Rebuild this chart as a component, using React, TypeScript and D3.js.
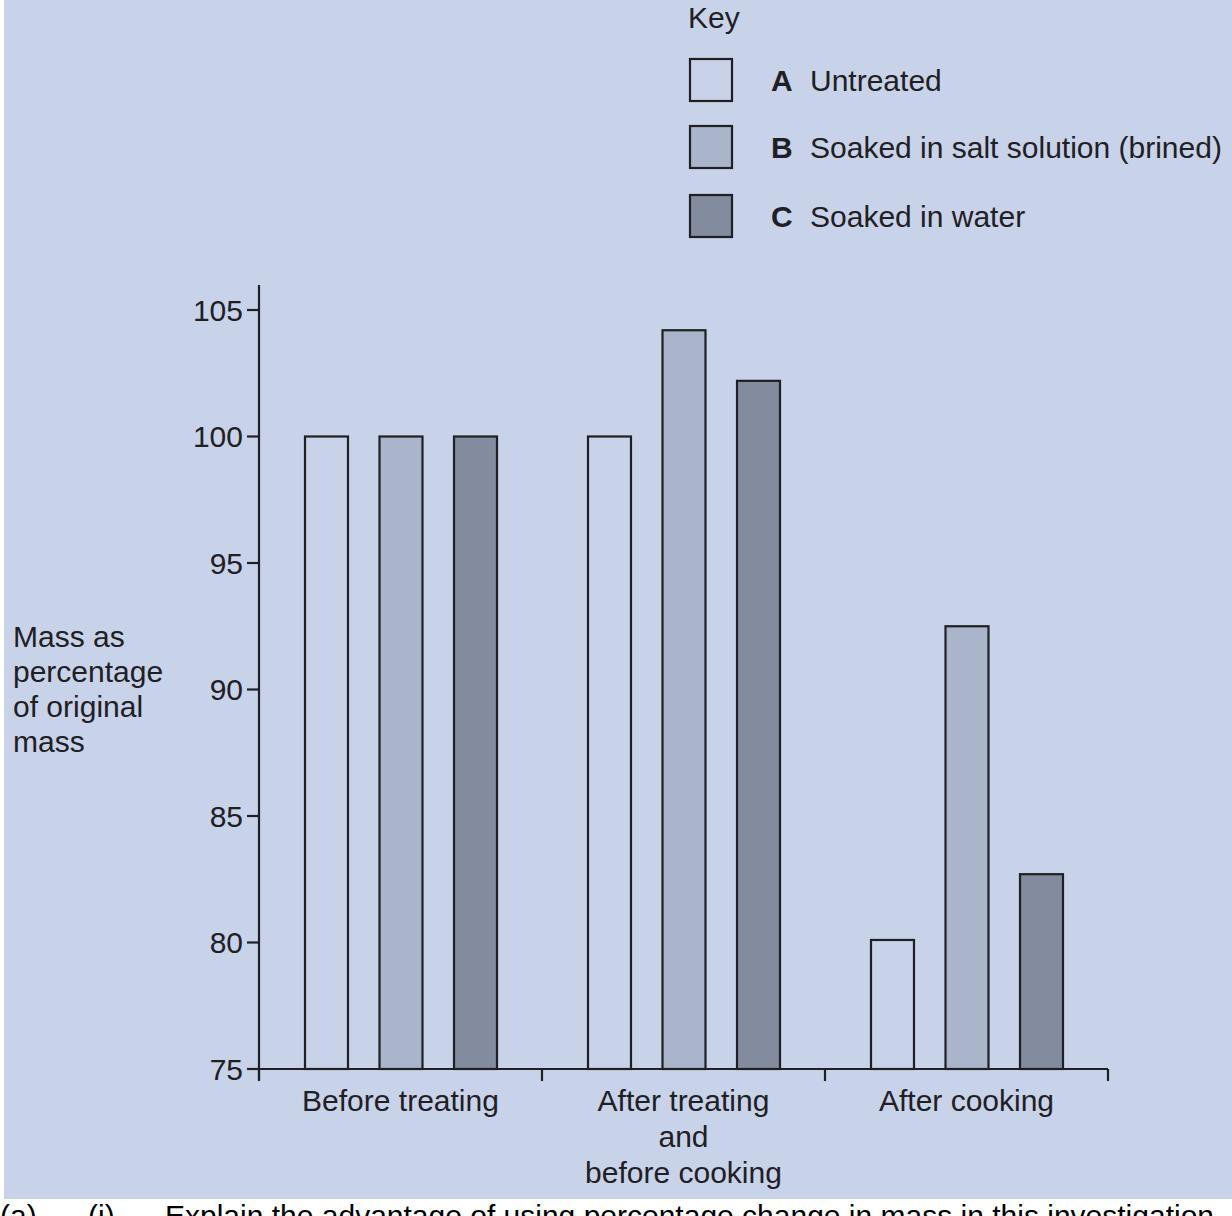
import { useEffect, useRef } from 'react'
import * as d3 from 'd3'

// chart data
const CATEGORIES = ['Before treating', 'After treating and before cooking', 'After cooking']
const CATEGORY_LINES = [['Before treating'], ['After treating', 'and', 'before cooking'], ['After cooking']]
const SERIES = ['A', 'B', 'C']
const SERIES_LABELS = ['Untreated', 'Soaked in salt solution (brined)', 'Soaked in water']
const SERIES_COLORS = ['#c8d2e9', '#aab5cb', '#838b9e']
const VALUES_A = [100, 100, 80.1]
const VALUES_B = [100, 104.2, 92.5]
const VALUES_C = [100, 102.2, 82.7]
const Y_TICKS = [75, 80, 85, 90, 95, 100, 105]
const Y_LABEL = ['Mass as', 'percentage', 'of original', 'mass']

const BG = '#c8d2e9'
const INK = '#1e2024'
const FONT = "'Liberation Sans', Arial, sans-serif"
const FS = 30

export default function App() {
  const ref = useRef<SVGSVGElement>(null)

  useEffect(() => {
    const svg = d3.select(ref.current)
    svg.selectAll('*').remove()

    const width = 1232
    const height = 1216
    const left = 259
    const right = 1108
    const top = 310
    const bottom = 1069

    // panel background
    svg.append('rect').attr('x', 0).attr('y', 0).attr('width', width).attr('height', height).attr('fill', '#ffffff')
    svg.append('rect').attr('x', 4).attr('y', 0).attr('width', width - 4).attr('height', 1199).attr('fill', BG)

    const y = d3.scaleLinear().domain([75, 105]).range([bottom, top])
    const x0 = d3.scaleBand<string>().domain(CATEGORIES).range([left, right])
    const x1 = d3.scaleBand<string>().domain(SERIES).range([46, 238]).paddingInner(0.423)

    const seriesValues = [VALUES_A, VALUES_B, VALUES_C]
    const rows = CATEGORIES.flatMap((cat, ci) =>
      SERIES.map((s, si) => ({ cat, s, si, value: seriesValues[si][ci] }))
    )

    const g = svg.append('g')
    g.selectAll('rect.bar')
      .data(rows)
      .enter()
      .append('rect')
      .attr('class', 'bar')
      .attr('x', (d) => (x0(d.cat) ?? 0) + (x1(d.s) ?? 0))
      .attr('y', (d) => y(d.value))
      .attr('width', x1.bandwidth())
      .attr('height', (d) => y(75) - y(d.value))
      .attr('fill', (d) => SERIES_COLORS[d.si])
      .attr('stroke', INK)
      .attr('stroke-width', 2.2)

    // y axis
    const yAxis = svg.append('g')
    yAxis.append('line')
      .attr('x1', left).attr('x2', left)
      .attr('y1', 285).attr('y2', bottom + 11)
      .attr('stroke', INK).attr('stroke-width', 2.2)
    const yt = yAxis.selectAll('g.tick').data(Y_TICKS).enter().append('g')
    yt.append('line')
      .attr('x1', left - 12).attr('x2', left)
      .attr('y1', (d) => y(d)).attr('y2', (d) => y(d))
      .attr('stroke', INK).attr('stroke-width', 2.2)
    yt.append('text')
      .attr('x', left - 16)
      .attr('y', (d) => y(d))
      .attr('dy', '0.36em')
      .attr('text-anchor', 'end')
      .attr('font-family', FONT)
      .attr('font-size', FS)
      .attr('fill', INK)
      .text((d) => d)

    // x axis
    svg.append('line')
      .attr('x1', left).attr('x2', right)
      .attr('y1', bottom).attr('y2', bottom)
      .attr('stroke', INK).attr('stroke-width', 2.2)
    const xTicks = [left, ...CATEGORIES.map((c) => (x0(c) ?? 0) + x0.bandwidth())]
    svg.selectAll('line.xtick').data(xTicks).enter().append('line')
      .attr('x1', (d) => d).attr('x2', (d) => d)
      .attr('y1', bottom).attr('y2', bottom + 12)
      .attr('stroke', INK).attr('stroke-width', 2.2)

    CATEGORIES.forEach((cat, ci) => {
      const cx = (x0(cat) ?? 0) + x0.bandwidth() / 2
      svg.append('text')
        .attr('text-anchor', 'middle')
        .attr('font-family', FONT)
        .attr('font-size', FS)
        .attr('fill', INK)
        .selectAll('tspan')
        .data(CATEGORY_LINES[ci])
        .enter()
        .append('tspan')
        .attr('x', cx)
        .attr('y', (_d, i) => 1111 + i * 36)
        .text((d) => d)
    })

    // y label
    svg.append('text')
      .attr('font-family', FONT)
      .attr('font-size', FS)
      .attr('fill', INK)
      .selectAll('tspan')
      .data(Y_LABEL)
      .enter()
      .append('tspan')
      .attr('x', 13)
      .attr('y', (_d, i) => 647 + i * 35)
      .text((d) => d)

    // key
    svg.append('text')
      .attr('x', 688).attr('y', 28)
      .attr('font-family', FONT).attr('font-size', FS).attr('fill', INK)
      .text('Key')
    const keyY = [59, 126, 195]
    const key = svg.selectAll('g.key').data(SERIES).enter().append('g')
    key.append('rect')
      .attr('x', 690).attr('y', (_d, i) => keyY[i])
      .attr('width', 42).attr('height', 42)
      .attr('fill', (_d, i) => SERIES_COLORS[i])
      .attr('stroke', INK).attr('stroke-width', 2.2)
    key.append('text')
      .attr('x', 771).attr('y', (_d, i) => keyY[i] + 32)
      .attr('font-family', FONT).attr('font-size', FS).attr('font-weight', 700).attr('fill', INK)
      .text((d) => d)
    key.append('text')
      .attr('x', 810).attr('y', (_d, i) => keyY[i] + 32)
      .attr('font-family', FONT).attr('font-size', FS).attr('fill', INK)
      .text((_d, i) => SERIES_LABELS[i])

    // question text below the figure, clipped by the page edge as in the source
    const q = svg.append('text')
      .attr('y', 1226)
      .attr('font-family', FONT).attr('font-size', FS).attr('fill', '#000')
    q.append('tspan').attr('x', 0).text('(a)')
    q.append('tspan').attr('x', 88).text('(i)')
    q.append('tspan').attr('x', 165).text('Explain the advantage of using percentage change in mass in this investigation')
  }, [])

  return (
    <svg
      ref={ref}
      width={1232}
      height={1216}
      viewBox="0 0 1232 1216"
      style={{ position: 'absolute', left: 0, top: 0, display: 'block' }}
    />
  )
}
